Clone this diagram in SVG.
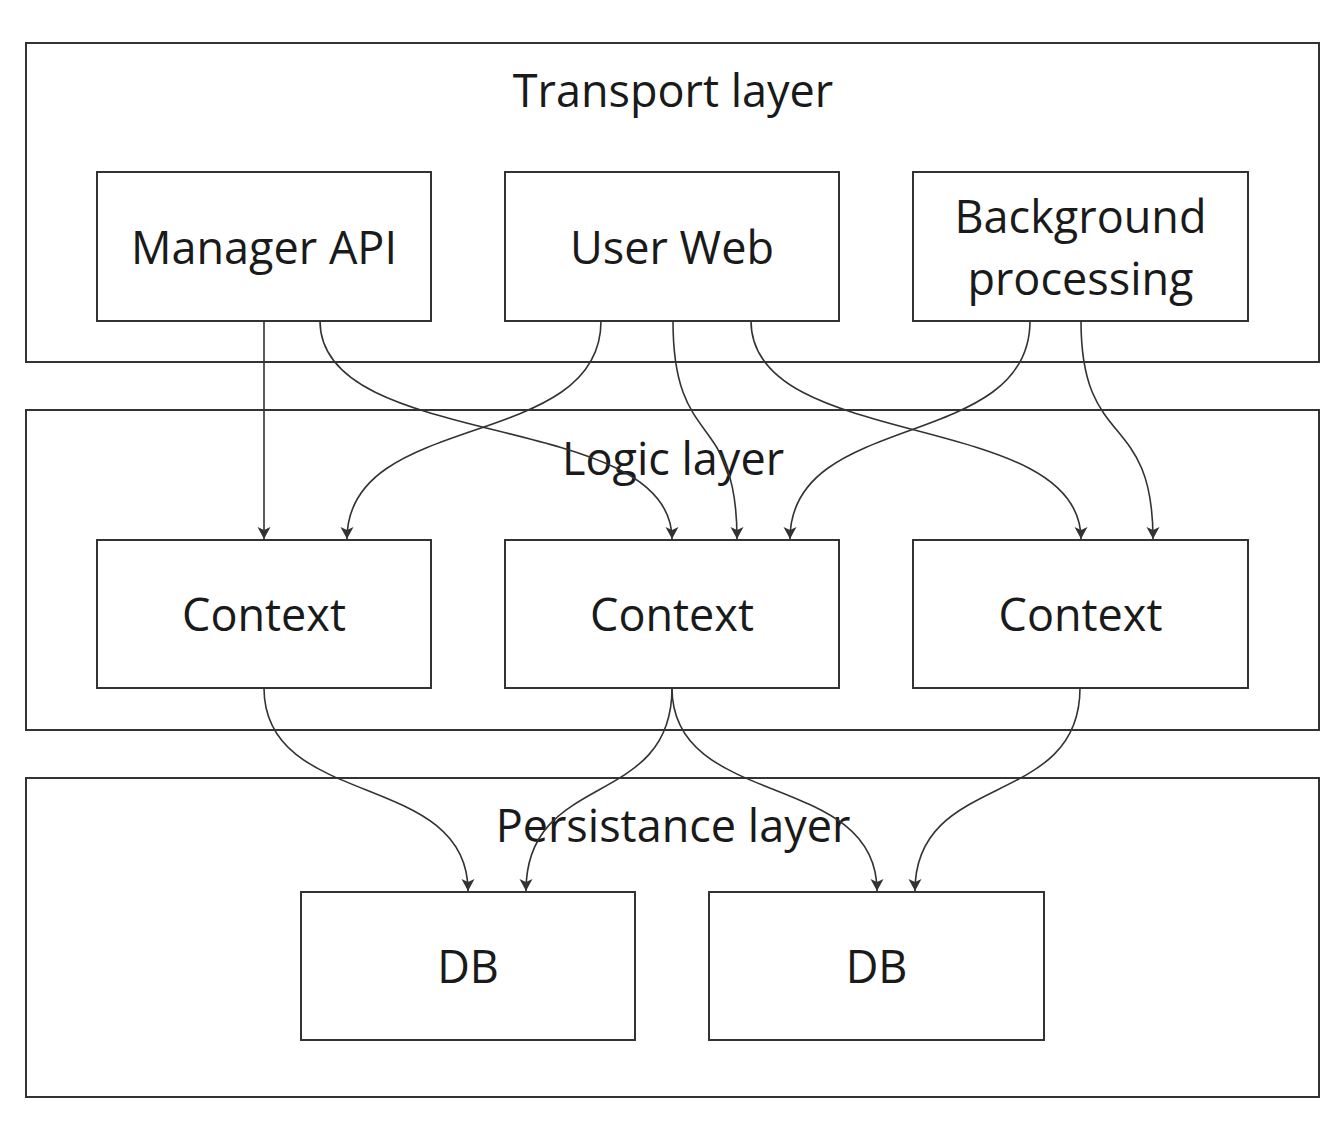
<svg xmlns="http://www.w3.org/2000/svg" width="1342" height="1126" viewBox="0 0 1342 1126">
<style>
  .layer { fill: #ffffff; stroke: #333333; stroke-width: 2; }
  .node { fill: #ffffff; stroke: #333333; stroke-width: 2; }
  .lbl { font-family: "Open Sans", "Noto Sans", "Liberation Sans", sans-serif; font-size: 45px; fill: #1a1a1a; text-anchor: middle; }
  .edge { fill: none; stroke: #333333; stroke-width: 1.6; marker-end: url(#arrow); }
</style>
<defs>
  <marker id="arrow" markerUnits="userSpaceOnUse" markerWidth="14" markerHeight="14" refX="12" refY="6.5" orient="auto">
    <path d="M0,0 L12,6.5 L0,13 L3,6.5 Z" fill="#333333"/>
  </marker>
</defs>
<rect width="1342" height="1126" fill="#ffffff"/>

<g id="transport-layer">
  <rect class="layer" x="26" y="43" width="1293" height="319"/>
  <text class="lbl" x="673" y="107">Transport layer</text>
</g>
<g id="logic-layer">
  <rect class="layer" x="26" y="410" width="1293" height="320"/>
  <text class="lbl" x="673" y="475">Logic layer</text>
</g>
<g id="persistance-layer">
  <rect class="layer" x="26" y="778" width="1293" height="319"/>
  <text class="lbl" x="673" y="842">Persistance layer</text>
</g>

<g id="manager-api">
  <rect class="node" x="97" y="172" width="334" height="149"/>
  <text class="lbl" x="264" y="264">Manager API</text>
</g>
<g id="user-web">
  <rect class="node" x="505" y="172" width="334" height="149"/>
  <text class="lbl" x="672" y="264">User Web</text>
</g>
<g id="background-processing">
  <rect class="node" x="913" y="172" width="335" height="149"/>
  <text class="lbl" x="1080.5" y="233">Background</text>
  <text class="lbl" x="1080.5" y="295">processing</text>
</g>

<g id="context-1">
  <rect class="node" x="97" y="540" width="334" height="148"/>
  <text class="lbl" x="264" y="631">Context</text>
</g>
<g id="context-2">
  <rect class="node" x="505" y="540" width="334" height="148"/>
  <text class="lbl" x="672" y="631">Context</text>
</g>
<g id="context-3">
  <rect class="node" x="913" y="540" width="335" height="148"/>
  <text class="lbl" x="1080.5" y="631">Context</text>
</g>

<g id="db-1">
  <rect class="node" x="301" y="892" width="334" height="148"/>
  <text class="lbl" x="468" y="983">DB</text>
</g>
<g id="db-2">
  <rect class="node" x="709" y="892" width="335" height="148"/>
  <text class="lbl" x="876.5" y="983">DB</text>
</g>

<g id="connectors">
  <path class="edge" d="M264,321 L264,539"/>
  <path class="edge" d="M320,321 C320,452.4 672,408.6 672,539"/>
  <path class="edge" d="M601,321 C601,452.4 347,408.6 347,539"/>
  <path class="edge" d="M673,321 C673,452.4 737,408.6 737,539"/>
  <path class="edge" d="M751,321 C751,452.4 1081,408.6 1081,539"/>
  <path class="edge" d="M1030,321 C1030,452.4 790,408.6 790,539"/>
  <path class="edge" d="M1081,321 C1081,452.4 1153,408.6 1153,539"/>
  <path class="edge" d="M264,688 C264,810.4 468,769.6 468,891"/>
  <path class="edge" d="M672,688 C672,810.4 526,769.6 526,891"/>
  <path class="edge" d="M672,688 C672,810.4 877,769.6 877,891"/>
  <path class="edge" d="M1080,688 C1080,810.4 915,769.6 915,891"/>
</g>
</svg>
